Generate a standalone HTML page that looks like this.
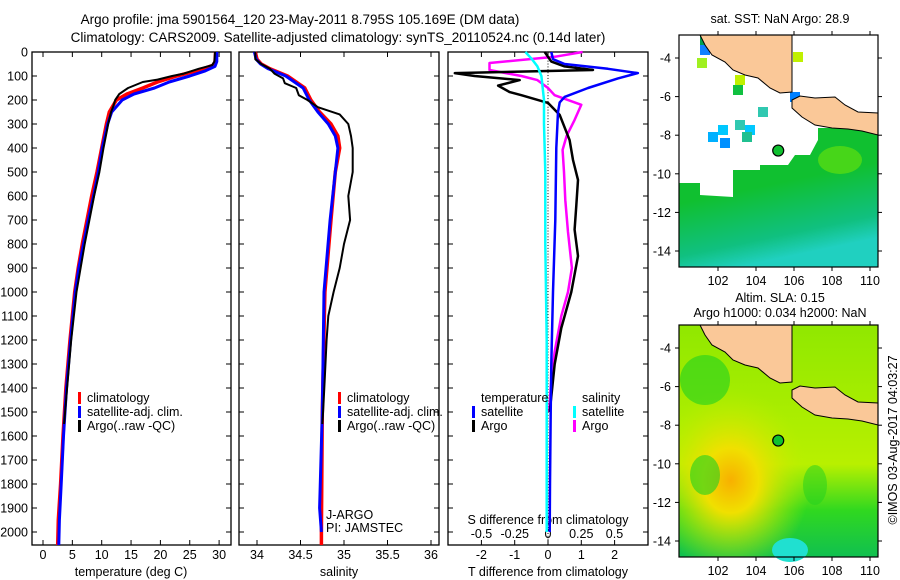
<!DOCTYPE html>
<html><head><meta charset="utf-8"><style>
body{margin:0;background:#fff}
svg{display:block;font-family:"Liberation Sans",sans-serif}
text{font-size:12.5px;fill:#000}
</style></head><body>
<svg id="s" width="900" height="580" viewBox="0 0 900 580">
<text x="300" y="24" text-anchor="middle" style="font-size:13.5px">Argo profile: jma 5901564_120 23-May-2011 8.795S 105.169E (DM data)</text>
<text x="338" y="42" text-anchor="middle" style="font-size:13.5px">Climatology: CARS2009. Satellite-adjusted climatology: synTS_20110524.nc (0.14d later)</text>
<g id="p1"></g>
<g id="p2"></g>
<g id="p3"></g>
<g id="m1"></g>
<g id="m2"></g>
<text x="0" y="0" transform="translate(897,440) rotate(-90)" text-anchor="middle">©IMOS 03-Aug-2017 04:03:27</text>
</svg>
<script>
const depthTicks=[0,100,200,300,400,500,600,700,800,900,1000,1100,1200,1300,1400,1500,1600,1700,1800,1900,2000];
const tTicks=[0,5,10,15,20,25,30];
const sTicks=[34,34.5,35,35.5,36];
const dTTicks=[-2,-1,0,1,2];
const dSTicks=[-0.5,-0.25,0,0.25,0.5];
const dSLabels=["-0.5","-0.25","0","0.25","0.5"];
// temperature profiles
const tClimD=[0,40,55,75,100,125,150,175,200,250,300,400,500,600,700,800,900,1000,1200,1400,1600,1800,1950,2054];
const tClimV=[29.4,29.3,29,26.7,22.8,19.5,17,14.3,12.5,11.3,10.8,10,9.2,8.3,7.5,6.7,6,5.4,4.6,3.9,3.4,3,2.6,2.5];
const tSatD=[0,40,60,80,100,125,150,175,200,250,300,400,500,600,700,800,900,1000,1200,1400,1600,1800,1950,2054];
const tSatV=[29.6,29.6,29.3,27.5,25,21.5,19,15.5,13.5,11.7,11,10.1,9.4,8.6,7.7,6.9,6.1,5.5,4.7,4,3.5,3.1,2.8,2.7];
const tArgoD=[0,40,55,70,90,100,115,125,150,175,200,225,250,300,400,500,600,700,800,900,1000,1200,1400,1550];
const tArgoV=[29.3,29.2,28.8,26.5,24,22,19.5,17,14.5,13,12.3,12,11.6,11.1,10.3,9.6,8.7,7.9,7.1,6.4,5.7,4.8,4.1,3.6];
// salinity profiles
const sClimD=[0,30,50,70,100,150,200,250,300,350,400,500,700,1000,1500,2000,2054];
const sClimV=[33.98,34.0,34.05,34.15,34.35,34.55,34.62,34.72,34.85,34.93,34.95,34.9,34.85,34.78,34.75,34.74,34.74];
const sSatD=[0,30,50,70,100,150,200,250,300,350,400,500,700,1000,1500,1900,2000];
const sSatV=[33.97,33.99,34.04,34.13,34.33,34.53,34.6,34.7,34.82,34.9,34.93,34.9,34.84,34.77,34.75,34.72,34.74];
const sArgoD=[0,30,50,70,90,110,130,150,180,200,230,260,300,350,400,500,600,700,800,900,1000,1100,1200,1350,1500,1550];
const sArgoV=[33.98,33.98,34.05,34.15,34.2,34.3,34.32,34.45,34.48,34.58,34.7,34.95,35.05,35.08,35.1,35.1,35.05,35.07,35.0,34.95,34.88,34.82,34.8,34.78,34.76,34.75];
// differences
const dTSatD=[0,30,50,70,88,110,150,187,210,250,400,700,1000,1300,1500,1800,2000];
const dTSatV=[0.1,0.15,0.5,1.8,2.7,2.1,1.2,0.5,0.35,0.3,0.25,0.22,0.15,0.1,0.08,0.06,0.05];
const dTArgoD=[0,40,60,75,88,100,117,140,167,180,212,262,367,450,533,640,740,850,1000,1150,1300,1500];
const dTArgoV=[-0.1,0.1,0.5,1.35,-2.8,-2.2,-0.85,-1.5,-1.15,-0.8,0,0.35,0.65,0.75,0.9,0.85,0.8,0.9,0.7,0.4,0.2,0.05];
const dSSatD=[0,30,60,100,150,200,300,500,800,1200,1600,2000];
const dSSatV=[-0.17,-0.12,-0.08,-0.05,-0.04,-0.03,-0.03,-0.02,-0.02,-0.01,-0.01,-0.01];
const dSArgoD=[0,20,46,75,100,117,150,180,220,283,350,408,500,617,750,900,1000,1100,1250,1400,1500];
const dSArgoV=[0.26,0.05,-0.44,-0.44,-0.2,-0.08,0.0,0.05,0.25,0.2,0.14,0.11,0.12,0.13,0.15,0.18,0.15,0.1,0.05,0.02,0.01];
const mapLonTicks=[102,104,106,108,110];
const mapLatTicks=[-4,-6,-8,-10,-12,-14];

const NS='http://www.w3.org/2000/svg';
function mk(p,tag,a,txt){const e=document.createElementNS(NS,tag);for(const k in a)e.setAttribute(k,a[k]);if(txt!==undefined)e.textContent=txt;p.appendChild(e);return e;}
const Y=d=>52+d*0.24;
const top0=52,bot0=545;
function frame(g,x0,x1){const r=mk(g,'rect',{x:x0,y:top0,width:x1-x0,height:bot0-top0,fill:'none',stroke:'#000','stroke-width':1.3});
}
function line(g,xs,ds,X,col,w,name){const pts=xs.map((v,i)=>X(v).toFixed(1)+','+Y(ds[i]).toFixed(1)).join(' ');
const e=mk(g,'polyline',{points:pts,fill:'none',stroke:col,'stroke-width':w,'stroke-linejoin':'round'});
}
function yAxis(g,x0,x1,labels){depthTicks.forEach(d=>{mk(g,'line',{x1:x0,x2:x0+5,y1:Y(d),y2:Y(d),stroke:'#000'});mk(g,'line',{x1:x1,x2:x1-5,y1:Y(d),y2:Y(d),stroke:'#000'});
if(labels){const t=mk(g,'text',{x:28,y:Y(d)+4.5,'text-anchor':'end'},String(d));}});}
function xAxis(g,ticks,X,labs,titleX,title){ticks.forEach((v,i)=>{mk(g,'line',{x1:X(v),x2:X(v),y1:bot0,y2:bot0-5,stroke:'#000'});mk(g,'line',{x1:X(v),x2:X(v),y1:top0,y2:top0+5,stroke:'#000'});
const t=mk(g,'text',{x:X(v),y:559,'text-anchor':'middle'},labs?labs[i]:String(v));});
const t=mk(g,'text',{x:titleX,y:576,'text-anchor':'middle'},title);}
function legend(g,x,y,col,label){mk(g,'rect',{x:x,y:y-10,width:3,height:12,fill:col});const t=mk(g,'text',{x:x+9,y:y},label);}

// Panel 1
const p1=document.getElementById('p1');const X1=v=>43+v*5.87;
frame(p1,32,231);yAxis(p1,32,231,true);
xAxis(p1,tTicks,X1,null,131,'temperature (deg C)');
line(p1,tClimV,tClimD,X1,'#f00',3.5,'temperature-climatology-line');
line(p1,tSatV,tSatD,X1,'#00f',3,'temperature-satellite-line');
line(p1,tArgoV,tArgoD,X1,'#000',2,'temperature-argo-line');
legend(p1,78,402,'#f00','climatology');legend(p1,78,416,'#00f','satellite-adj. clim.');legend(p1,78,430,'#000','Argo(..raw -QC)');
// Panel 2
const p2=document.getElementById('p2');const X2=v=>257+(v-34)*87;
frame(p2,239,439);yAxis(p2,239,439,false);
xAxis(p2,sTicks,X2,null,339,'salinity');
line(p2,sClimV,sClimD,X2,'#f00',3.5,'salinity-climatology-line');
line(p2,sSatV,sSatD,X2,'#00f',3,'salinity-satellite-line');
line(p2,sArgoV,sArgoD,X2,'#000',2,'salinity-argo-line');
legend(p2,338,402,'#f00','climatology');legend(p2,338,416,'#00f','satellite-adj. clim.');legend(p2,338,430,'#000','Argo(..raw -QC)');
let t=mk(p2,'text',{x:326,y:519},'J-ARGO');
t=mk(p2,'text',{x:326,y:532},'PI: JAMSTEC');
// Panel 3
const p3=document.getElementById('p3');const XT=v=>548+v*33.3;const XS=v=>548+v*133;
frame(p3,448,648);yAxis(p3,448,648,false);
xAxis(p3,dTTicks,XT,null,548,'T difference from climatology');
dSTicks.forEach((v,i)=>{const e=mk(p3,'text',{x:XS(v),y:538,'text-anchor':'middle'},dSLabels[i]);});
t=mk(p3,'text',{x:548,y:524,'text-anchor':'middle'},'S difference from climatology');
for(let d=0;d<2050;d+=12)mk(p3,'rect',{x:547.5,y:Y(d),width:1,height:1,fill:'#000'});
line(p3,dSArgoV,dSArgoD,XS,'#f0f',2.5,'salinity-argo-diff-line');
line(p3,dTArgoV,dTArgoD,XT,'#000',2.5,'temperature-argo-diff-line');
line(p3,dSSatV,dSSatD,XS,'#0ff',2.5,'salinity-satellite-diff-line');
line(p3,dTSatV,dTSatD,XT,'#00f',2.5,'temperature-satellite-diff-line');
t=mk(p3,'text',{x:481,y:402},'temperature');
t=mk(p3,'text',{x:582,y:402},'salinity');
legend(p3,472,416,'#00f','satellite');legend(p3,472,430,'#000','Argo');legend(p3,573,416,'#0ff','satellite');legend(p3,573,430,'#f0f','Argo');

// Maps
function map(id,y0,title1,title2,kind){const g=document.getElementById(id);const x0=679,x1=878,h=232;
const LX=l=>718+(l-102)*19;const LY=l=>y0+23+(-4-l)*19.3;
const defs=mk(g,'defs',{});
if(kind==='sst'){
 mk(g,'rect',{x:x0,y:y0,width:x1-x0,height:h,fill:'#fff'});
 const lg=mk(defs,'linearGradient',{id:'gs',x1:0,y1:0,x2:0.3,y2:1});mk(lg,'stop',{offset:'0.5','stop-color':'#10c030'});mk(lg,'stop',{offset:'0.85','stop-color':'#10c080'});mk(lg,'stop',{offset:'1','stop-color':'#20d0c0'});
 const pts=[[679,183],[700,183],[700,195],[733,197],[733,170],[760,170],[760,165],[788,165],[795,155],[810,155],[818,140],[818,128],[878,128],[878,y0+h],[679,y0+h]];
 const e=mk(g,'polygon',{points:pts.map(p=>p.join(',')).join(' '),fill:'url(#gs)'});
 mk(g,'ellipse',{cx:840,cy:160,rx:22,ry:14,fill:'#60e010',opacity:0.7});
 [[708,132,'#00b0ff'],[718,125,'#00c8ff'],[735,120,'#30c8b0'],[745,125,'#00c8ff'],[720,138,'#0090ff'],[742,132,'#20c090'],[700,35,'#00a050'],[700,45,'#1080ff'],[697,58,'#a0f020'],[733,85,'#10c040'],[735,75,'#c0f000'],[790,92,'#0080ff'],[793,52,'#c0f000'],[758,107,'#30c8b0']].forEach(c=>mk(g,'rect',{x:c[0],y:c[1],width:10,height:10,fill:c[2]}));
}else{
 const rg=mk(defs,'radialGradient',{id:'gr',cx:0.26,cy:0.67,r:0.4});mk(rg,'stop',{offset:'0','stop-color':'#f8b000'});mk(rg,'stop',{offset:'0.35','stop-color':'#f0e000'});mk(rg,'stop',{offset:'1','stop-color':'#b8f000','stop-opacity':0});
 const lg=mk(defs,'linearGradient',{id:'gb',x1:0,y1:0,x2:0,y2:1});mk(lg,'stop',{offset:'0','stop-color':'#90e800'});mk(lg,'stop',{offset:'0.6','stop-color':'#b8f000'});mk(lg,'stop',{offset:'0.8','stop-color':'#30d820'});mk(lg,'stop',{offset:'1','stop-color':'#10c050'});
 const e=mk(g,'rect',{x:x0,y:y0,width:x1-x0,height:h,fill:'url(#gb)'});
 mk(g,'rect',{x:x0,y:y0,width:x1-x0,height:h,fill:'url(#gr)'});
 mk(g,'ellipse',{cx:790,cy:y0+225,rx:18,ry:12,fill:'#20e0d0'});
 mk(g,'ellipse',{cx:705,cy:y0+55,rx:25,ry:25,fill:'#20d020',opacity:0.6});
 mk(g,'ellipse',{cx:705,cy:y0+150,rx:15,ry:20,fill:'#20d020',opacity:0.6});
 mk(g,'ellipse',{cx:815,cy:y0+160,rx:12,ry:20,fill:'#20d020',opacity:0.5});
}
const o=y0-35;
const sum=[[700,35],[792,35],[792,92],[780,93],[770,88],[758,78],[745,75],[733,70],[725,62],[712,55],[705,45]];
const java=[[792,100],[800,96],[815,98],[835,97],[845,105],[858,112],[878,113],[878,135],[862,131],[848,129],[832,128],[815,125],[802,117],[792,108]];
[sum,java].forEach((p,i)=>{const e=mk(g,'polygon',{points:p.map(q=>q[0]+','+(q[1]+o)).join(' '),fill:'#fac898',stroke:'#000','stroke-width':1});});
mk(g,'circle',{cx:LX(105.169),cy:LY(-8.795),r:5.5,fill:'#10c030',stroke:'#000','stroke-width':1.2});
const fr=mk(g,'rect',{x:x0,y:y0,width:x1-x0,height:h,fill:'none',stroke:'#000','stroke-width':1.2});
mapLonTicks.forEach(l=>{mk(g,'line',{x1:LX(l),x2:LX(l),y1:y0,y2:y0-4,stroke:'#000'});mk(g,'line',{x1:LX(l),x2:LX(l),y1:y0+h,y2:y0+h+4,stroke:'#000'});
 const e=mk(g,'text',{x:LX(l),y:y0+h+18,'text-anchor':'middle'},String(l));});
mapLatTicks.forEach(l=>{mk(g,'line',{x1:x0,x2:x0-4,y1:LY(l),y2:LY(l),stroke:'#000'});mk(g,'line',{x1:x1,x2:x1+4,y1:LY(l),y2:LY(l),stroke:'#000'});
 const e=mk(g,'text',{x:x0-8,y:LY(l)+4.5,'text-anchor':'end'},String(l));});
let tt=mk(g,'text',{x:780,y:title2?y0-23:y0-12,'text-anchor':'middle'},title1);
if(title2){tt=mk(g,'text',{x:780,y:y0-8,'text-anchor':'middle'},title2);}
}
map('m1',35,'sat. SST: NaN Argo: 28.9',null,'sst');
map('m2',325,'Altim. SLA: 0.15','Argo h1000: 0.034 h2000: NaN','sla');
</script>
</body></html>
